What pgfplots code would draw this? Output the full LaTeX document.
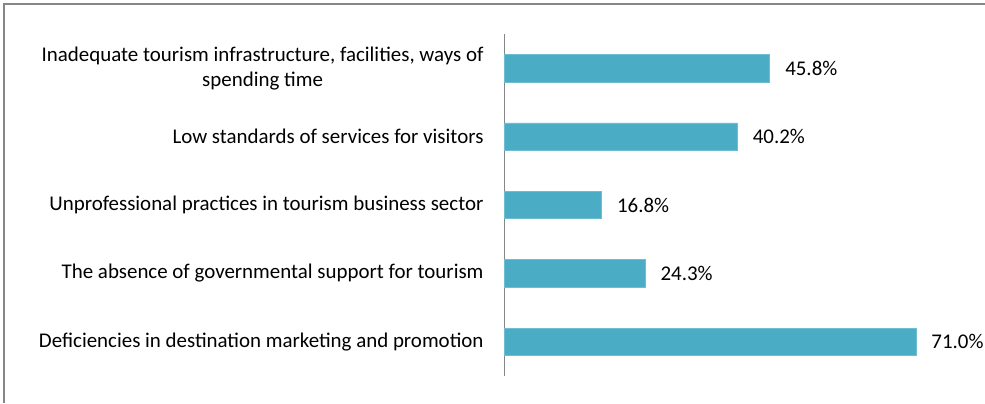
\documentclass[border=0pt]{standalone}
\usepackage{pgfplots}
\pgfplotsset{compat=1.18}
\usepackage{fontspec}
\setmainfont{Carlito}
\definecolor{barblue}{RGB}{75,172,198}
\definecolor{framegray}{RGB}{134,134,134}

\begin{document}
\begin{tikzpicture}[x=1bp,y=1bp]
    \useasboundingbox (0,0) rectangle (985,403);
    % outer chart frame (only top and left edges are visible)
    \draw[framegray, line width=1.2bp] (4,0) -- (4,399) -- (985,399);
    \begin{axis}[
        at={(504bp,27bp)}, anchor=south west,
        scale only axis,
        width=464bp, height=342bp,
        xbar, bar width=27.4bp,
        xmin=0, xmax=80,
        ymin=-0.5, ymax=4.5,
        ytick={0,1,2,3,4},
        yticklabels={
            Deficiencies in destination marketing and promotion,
            The absence of governmental support for tourism,
            Unprofessional practices in tourism business sector,
            Low standards of services for visitors,
            {Inadequate tourism infrastructure, facilities, ways of\\spending time}},
        yticklabel style={align=center, font=\fontsize{21}{25}\selectfont, text=black, xshift=-17bp},
        major tick length=0pt,
        axis x line=none,
        axis y line*=left,
        y axis line style={framegray, line width=1bp, -},
        /pgf/number format/assume math mode=true,
        nodes near coords={\pgfmathprintnumber[fixed, fixed zerofill, precision=1]{\pgfplotspointmeta}\%},
        nodes near coords style={font=\fontsize{21}{24}\selectfont, text=black, anchor=west, xshift=12bp},
        point meta=x,
    ]
        \addplot[fill=barblue, draw=barblue!80!white, line width=0.6bp] coordinates {(71.0,0) (24.3,1) (16.8,2) (40.2,3) (45.8,4)};
    \end{axis}
\end{tikzpicture}
\end{document}
